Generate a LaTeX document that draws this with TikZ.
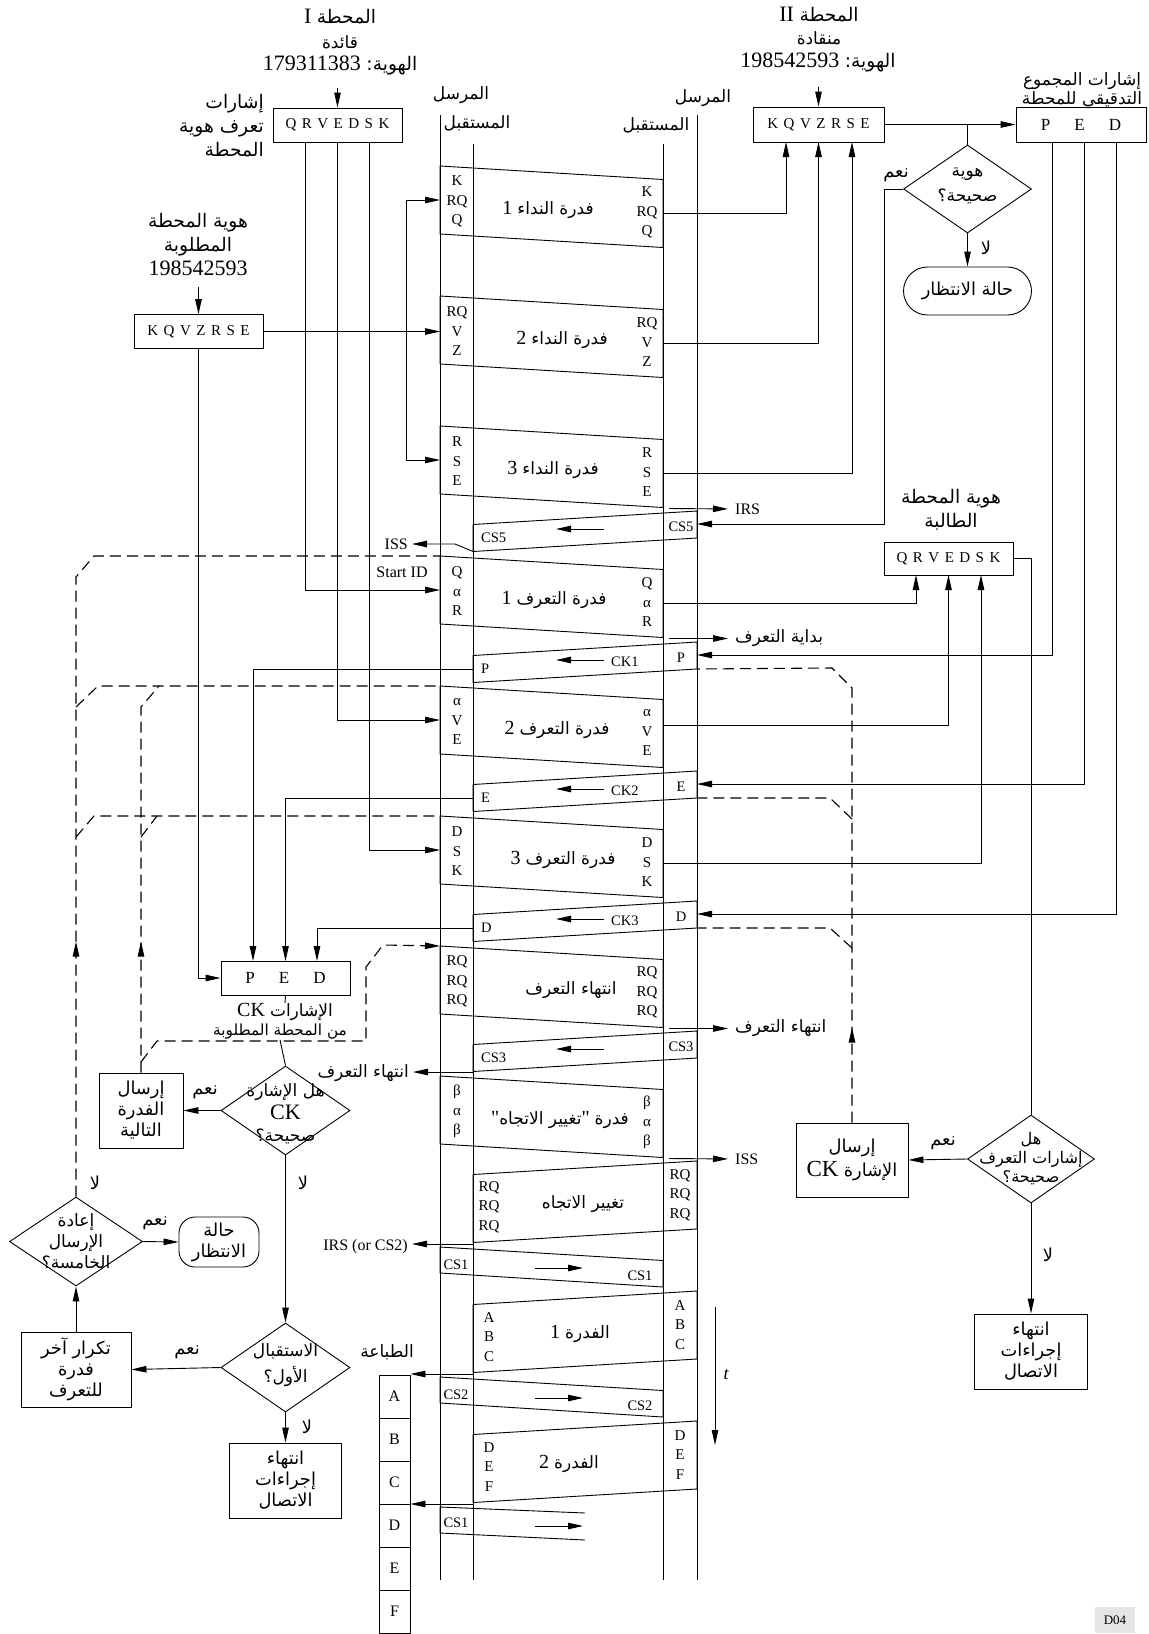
\documentclass[tikz,border=0pt]{standalone}
\usepackage{fontspec}
\setmainfont{Liberation Serif}
\newfontfamily\arabicfont[Script=Arabic,Scale=0.85]{DejaVu Sans}
\newfontfamily\qfont[Ligatures=TeXOff]{Liberation Serif}
\TeXXeTstate=1
\usetikzlibrary{arrows.meta,shapes.geometric,decorations.markings}

\newcommand{\artxt}[1]{{\arabicfont\beginR #1\endR}}
\newcommand{\lsp}{\hspace{5.5pt}}
\newcommand{\psp}{\hspace{24pt}}
\newcommand{\qm}{{\qfont "}}

\begin{document}
\begin{tikzpicture}[
  x=1pt, y=-1pt,
  font=\fontsize{16}{19}\selectfont,
  lane/.style={line width=0.9pt},
  frm/.style={line width=0.9pt},
  link/.style={line width=0.9pt},
  arr/.style={-{Triangle[length=15pt,width=6.5pt]}, line width=0.9pt},
  loopln/.style={line width=1.1pt, dash pattern=on 11pt off 6pt},
  upmark/.style={postaction={decorate}, decoration={markings,
      mark=at position #1 with {\arrow{Triangle[length=15pt,width=6.5pt]}}}},
  sigbox/.style={draw, line width=0.9pt, minimum width=129pt, minimum height=34pt,
      inner sep=0pt, font=\fontsize{15}{18}\selectfont},
  procbox/.style={draw, line width=0.9pt, align=center, inner sep=0pt,
      font=\fontsize{21}{21}\selectfont},
  decide/.style={diamond, draw, line width=0.9pt, inner sep=0pt,
      minimum width=129pt, minimum height=89pt},
  waitbox/.style={draw, line width=0.9pt, align=center, inner sep=0pt,
      font=\fontsize{21}{21}\selectfont},
  qtext/.style={align=center, inner sep=0pt, font=\fontsize{20}{21}\selectfont},
  sig/.style={align=center, inner sep=0pt, font=\fontsize{15}{19.5}\selectfont},
  cslbl/.style={inner sep=0pt, font=\fontsize{14.5}{17}\selectfont},
  fname/.style={inner sep=0pt, font=\fontsize{20}{22}\selectfont},
  lbl/.style={inner sep=0pt, font=\fontsize{16}{19}\selectfont},
  albl/.style={inner sep=0pt, align=center, font=\fontsize{20}{22}\selectfont},
  yn/.style={inner sep=0pt, font=\fontsize{21}{22}\selectfont},
  big/.style={inner sep=0pt, font=\fontsize{22}{24}\selectfont}
]
\useasboundingbox (0,0) rectangle (1149,1634);

% --- Lifelines ---
\coordinate (sL-top) at (440,115); \coordinate (sL-bot) at (440,1580);
\coordinate (rL-top) at (473,144); \coordinate (rL-bot) at (473,1580);
\coordinate (rR-top) at (663,144); \coordinate (rR-bot) at (663,1580);
\coordinate (sR-top) at (697,115); \coordinate (sR-bot) at (697,1580);
\foreach \ln in {sL,rL,rR,sR}
  \draw[lane] (\ln-top) -- (\ln-bot);

\node[albl] (sndL) at (461,95) {\artxt{المرسل}};
\node[albl] (rcvL) at (477,123) {\artxt{المستقبل}};
\node[albl] (sndR) at (703,98) {\artxt{المرسل}};
\node[albl] (rcvR) at (656,125) {\artxt{المستقبل}};

% --- Frames sent to the right ---
\foreach \fr/\t/\sg/\cx/\lab/\oy in {
    pa/166/{K\\RQ\\Q}/548/{1 \artxt{فدرة النداء}}/47,
    pb/296/{RQ\\V\\Z}/562/{2 \artxt{فدرة النداء}}/47,
    pc/426/{R\\S\\E}/553/{3 \artxt{فدرة النداء}}/47,
    ia/556/{Q\\α\\R}/554/{1 \artxt{فدرة التعرف}}/47,
    ib/686/{α\\V\\E}/557/{2 \artxt{فدرة التعرف}}/39,
    ic/816/{D\\S\\K}/563/{3 \artxt{فدرة التعرف}}/47,
    ie/946/{RQ\\RQ\\RQ}/571/{\artxt{انتهاء التعرف}}/47,
    dc/1076/{β\\α\\β}/560/{\qm\artxt{تغيير الاتجاه}\qm\ \artxt{فدرة}}/47}{
  \draw[frm] (440,\t) coordinate (\fr-tl) -- (663,\t+13.5) coordinate (\fr-tr)
    -- (663,\t+81.5) coordinate (\fr-br) -- (440,\t+68) coordinate (\fr-bl) -- cycle;
  \node[sig] (\fr-sl) at (457,\t+35.5) {\sg};
  \node[sig] (\fr-sr) at (647,\t+46.5) {\sg};
  \node[fname] (\fr-nm) at (\cx,\t+44) {\lab};
  \coordinate (\fr-in) at (440,\t+34);
  \coordinate (\fr-out) at (663,\t+\oy);
  \coordinate (\fr-x) at (669,\t+82.5);
}

% --- Short frames sent back ---
\foreach \fr/\t/\sg/\ck in {cs5/511/CS5/{}, k1/642/P/CK1, k2/771/E/CK2,
    k3/901/D/CK3, cs3/1031/CS3/{}}{
  \draw[frm] (697,\t) coordinate (\fr-tr) -- (473,\t+13.5) coordinate (\fr-tl)
    -- (473,\t+40.5) coordinate (\fr-bl) -- (697,\t+27) coordinate (\fr-rb) -- cycle;
  \node[cslbl] (\fr-sr) at (681,\t+16) {\sg};
  \node[cslbl, anchor=west] (\fr-sl) at (481,\t+27) {\sg};
  \node[cslbl, anchor=west] (\fr-ck) at (611,\t+20) {\ck};
  \coordinate (\fr-a1) at (604,\t+18);
  \coordinate (\fr-a2) at (556,\t+18);
  \draw[arr] (\fr-a1) -- (\fr-a2);
  \coordinate (\fr-ri) at (697,\t+13);
  \coordinate (\fr-lo) at (473,\t+27);
  \coordinate (\fr-x) at (473,\t+41);
}

% --- Data frames sent back ---
\foreach \fr/\t/\sg/\cx/\lab in {
    rq/1161/{RQ\\RQ\\RQ}/583/{\artxt{تغيير الاتجاه}},
    fa/1291/{A\\B\\C}/580/{1 \artxt{الفدرة}},
    fb/1421/{D\\E\\F}/569/{2 \artxt{الفدرة}}}{
  \draw[frm] (697,\t) coordinate (\fr-tr) -- (473,\t+13.5) coordinate (\fr-tl)
    -- (473,\t+81.5) coordinate (\fr-bl) -- (697,\t+68) coordinate (\fr-br) -- cycle;
  \node[sig] (\fr-sr) at (680,\t+34) {\sg};
  \node[sig] (\fr-sl) at (489,\t+46) {\sg};
  \node[fname] (\fr-nm) at (\cx,\t+43) {\lab};
  \coordinate (\fr-x) at (473,\t+83);
}

% --- Short frames sent to the right ---
\foreach \fr/\t/\sg in {c1/1247/CS1, c2/1377/CS2}{
  \draw[frm] (440,\t) coordinate (\fr-tl) -- (663,\t+13.5) coordinate (\fr-tr)
    -- (663,\t+40) coordinate (\fr-br) -- (440,\t+26) coordinate (\fr-bl) -- cycle;
  \node[cslbl] (\fr-sl) at (456,\t+18) {\sg};
  \node[cslbl] (\fr-sr) at (640,\t+29) {\sg};
  \coordinate (\fr-a1) at (535,\t+21);
  \coordinate (\fr-a2) at (583,\t+21);
  \draw[arr] (\fr-a1) -- (\fr-a2);
}
\draw[frm] (585,1513) coordinate (c3-tr) -- (440,1507) coordinate (c3-tl)
  -- (440,1533) coordinate (c3-bl) -- (585,1540) coordinate (c3-br);
\node[cslbl] (c3-sl) at (456,1523) {CS1};
\coordinate (c3-a1) at (535,1526); \coordinate (c3-a2) at (583,1526);
\draw[arr] (c3-a1) -- (c3-a2);

% --- Station I ---
\node[big] (st1-name) at (340,17) {I \artxt{المحطة}};
\node[albl] (st1-role) at (340,42) {\artxt{قائدة}};
\node[big] (st1-id) at (340,65) {179311383 \artxt{الهوية:}};
\node[sigbox] (sigA) at (337.5,125) {Q\lsp R\lsp V\lsp E\lsp D\lsp S\lsp K};
\node[albl, align=right, anchor=east, font=\fontsize{22}{24}\selectfont] (sigA-lbl)
  at (264,126) {\artxt{إشارات}\\\artxt{تعرف هوية}\\\artxt{المحطة}};
\coordinate (st1-in) at (337.5,88);
\draw[arr] (st1-in) -- (sigA.north);

\coordinate (qa1) at (305,142);
\coordinate (qa2) at (337.5,142);
\coordinate (qa3) at (369,142);
\draw[arr] (qa1) |- (ia-in);
\draw[arr] (qa2) |- (ib-in);
\draw[arr] (qa3) |- (ic-in);
\node[lbl] (startid) at (402,572) {Start ID};

\node[albl, font=\fontsize{22}{24}\selectfont] (reqL) at (198,244)
  {\artxt{هوية المحطة}\\\artxt{المطلوبة}\\{\fontsize{22}{24}\selectfont 198542593}};
\node[sigbox] (sigB) at (198.5,331.5) {K\lsp Q\lsp V\lsp Z\lsp R\lsp S\lsp E};
\coordinate (reqL-out) at (198.5,287);
\draw[arr] (reqL-out) -- (sigB.north);
\coordinate (fork) at (406,331.5);
\draw[arr] (sigB.east) -- (sigB.east -| pb-in);
\draw[arr] (fork) |- (pa-in);
\draw[arr] (fork) |- (pc-in);

% --- Left checks ---
\node[sigbox, font=\fontsize{17}{18}\selectfont] (pedL) at (285.5,978) {P\psp E\psp D};
\coordinate (pedL-1) at (253,961);
\coordinate (pedL-2) at (285.5,961);
\coordinate (pedL-3) at (317,961);
\draw[arr] (k1-lo) -| (pedL-1);
\draw[arr] (k2-lo) -| (pedL-2);
\draw[arr] (k3-lo) -| (pedL-3);
\draw[arr] (sigB.south) |- (pedL.west);
\node[albl] (ckL1) at (285,1012) {{\fontsize{20}{20}\selectfont CK} \artxt{الإشارات}};
\node[albl, font=\fontsize{18}{20}\selectfont] (ckL2) at (280,1032) {\artxt{من المحطة المطلوبة}};

\node[decide] (dA) at (285.5,1110.5) {};
\node[qtext, font=\fontsize{20}{22.5}\selectfont] (dA-t) at (285.5,1114)
  {\artxt{هل الإشارة}\\{\fontsize{22}{22}\selectfont CK}\\\artxt{صحيحة؟}};
\draw[link] (pedL.south) -- (ckL1.north);
\draw[link] (ckL2.south) -- (dA.north);

\node[procbox, minimum width=84pt, minimum height=75pt] (nextb) at (141,1110.5)
  {\artxt{إرسال}\\\artxt{الفدرة}\\\artxt{التالية}};
\draw[arr] (dA.west) -- (nextb.east);
\node[yn] (dA-yes) at (205,1092) {\artxt{نعم}};

\node[decide] (dB) at (285.5,1367.5) {};
\node[qtext, font=\fontsize{20}{26}\selectfont] (dB-t) at (285.5,1365)
  {\artxt{الاستقبال}\\\artxt{الأول؟}};
\draw[arr] (dA.south) -- (dB.north);
\node[yn] (dA-no) at (303,1183) {\artxt{لا}};

\node[procbox, minimum width=110pt, minimum height=75pt] (repb) at (76,1369.5)
  {\artxt{تكرار آخر}\\\artxt{فدرة}\\\artxt{للتعرف}};
\draw[arr] (dB.west) -- (repb.east);
\node[yn] (dB-yes) at (187,1352) {\artxt{نعم}};

\node[procbox, minimum width=112pt, minimum height=75pt] (endL) at (285.5,1480.5)
  {\artxt{انتهاء}\\\artxt{إجراءات}\\\artxt{الاتصال}};
\draw[arr] (dB.south) -- (endL.north);
\node[yn] (dB-no) at (307,1427) {\artxt{لا}};

\node[decide, minimum width=133pt] (dC) at (76,1241.5) {};
\node[qtext] (dC-t) at (76,1241) {\artxt{إعادة}\\\artxt{الإرسال}\\\artxt{الخامسة؟}};
\draw[arr] (repb.north) -- (dC.south);
\node[waitbox, minimum width=80pt, minimum height=50pt, rounded corners=16pt] (waitL)
  at (219,1242) {\artxt{حالة}\\\artxt{الانتظار}};
\draw[arr] (dC.east) -- (waitL.west);
\node[yn] (dC-yes) at (155,1223) {\artxt{نعم}};
\node[yn] (dC-no) at (95,1183) {\artxt{لا}};

% --- Left repeat loops ---
\draw[loopln, upmark=255pt] (dC.north) -- (76,577) -- (94,556) -- (ia-tl);
\draw[loopln] (76,707) -- (98,686) -- (ib-tl);
\draw[loopln] (76,837) -- (94,816) -- (ic-tl);
\draw[loopln, upmark=131pt] (nextb.north) -- (141,707) -- (159,686);
\draw[loopln] (141,837) -- (157,816);
\draw[loopln, arr, line width=1.1pt] (141,1062) -- (157,1041) -- (366,1041) -- (366,967) -- (383,945) -- (ie-tl);

% --- Station II ---
\node[big] (st2-name) at (819,15) {II \artxt{المحطة}};
\node[albl] (st2-role) at (819,38) {\artxt{منقادة}};
\node[big] (st2-id) at (818,62) {198542593 \artxt{الهوية:}};
\node[sigbox, minimum width=131pt, minimum height=35pt] (sigC) at (818.5,124.5)
  {K\lsp Q\lsp V\lsp Z\lsp R\lsp S\lsp E};
\coordinate (st2-in) at (818.5,87);
\draw[arr] (st2-in) -- (sigC.north);
\coordinate (sigC-1) at (786,142);
\coordinate (sigC-2) at (818.5,142);
\coordinate (sigC-3) at (852,142);
\draw[arr] (pa-out) -| (sigC-1);
\draw[arr] (pb-out) -| (sigC-2);
\draw[arr] (pc-out) -| (sigC-3);

\node[albl, font=\fontsize{20}{19}\selectfont] (chkL) at (1082,91)
  {\artxt{إشارات المجموع}\\\artxt{التدقيقي للمحطة}};
\node[sigbox, minimum width=130pt, minimum height=35pt, font=\fontsize{17}{18}\selectfont]
  (pedR) at (1081,124.5) {P\psp E\psp D};
\draw[arr] (sigC.east) -- (pedR.west);

\node[decide, minimum width=128pt, minimum height=88pt] (dD) at (967.5,189) {};
\node[qtext, font=\fontsize{20}{25}\selectfont] (dD-t) at (967.5,186)
  {\artxt{هوية}\\\artxt{صحيحة؟}};
\draw[link] (dD.north |- sigC.east) -- (dD.north);
\node[waitbox, minimum width=128pt, minimum height=48pt, rounded corners=24pt] (waitR)
  at (967.5,291) {\artxt{حالة الانتظار}};
\draw[arr] (dD.south) -- (waitR.north);
\node[yn] (dD-no) at (986,248) {\artxt{لا}};
\node[yn] (dD-yes) at (896,175) {\artxt{نعم}};
\draw[arr] (dD.west) -- (884,189) |- (cs5-ri);

\coordinate (pedR-1) at (1052,142);
\coordinate (pedR-2) at (1084,142);
\coordinate (pedR-3) at (1116,142);
\draw[arr] (pedR-1) |- (k1-ri);
\draw[arr] (pedR-2) |- (k2-ri);
\draw[arr] (pedR-3) |- (k3-ri);

\node[albl, font=\fontsize{22}{24}\selectfont] (reqR) at (951,510)
  {\artxt{هوية المحطة}\\\artxt{الطالبة}};
\node[sigbox, minimum height=33pt] (sigD) at (948.5,558.5) {Q\lsp R\lsp V\lsp E\lsp D\lsp S\lsp K};
\coordinate (sigD-1) at (916,575);
\coordinate (sigD-2) at (948.5,575);
\coordinate (sigD-3) at (981,575);
\draw[arr] (ia-out) -| (sigD-1);
\draw[arr] (ib-out) -| (sigD-2);
\draw[arr] (ic-out) -| (sigD-3);

\node[decide, minimum width=127pt, minimum height=88pt] (dE) at (1031,1159) {};
\node[qtext, font=\fontsize{19}{19}\selectfont] (dE-t) at (1031,1159)
  {\artxt{هل}\\\artxt{إشارات التعرف}\\\artxt{صحيحة؟}};
\draw[link] (sigD.east) -| (dE.north);
\node[procbox, minimum width=112pt, minimum height=74pt, font=\fontsize{21}{24}\selectfont]
  (ckb) at (852,1160) {\artxt{إرسال}\\{\fontsize{23}{23}\selectfont CK} \artxt{الإشارة}};
\draw[arr] (dE.west) -- (ckb.east);
\node[yn] (dE-yes) at (943,1143) {\artxt{نعم}};
\node[procbox, minimum width=113pt, minimum height=75pt] (endR) at (1031,1351.5)
  {\artxt{انتهاء}\\\artxt{إجراءات}\\\artxt{الاتصال}};
\draw[arr] (dE.south) -- (endR.north);
\node[yn] (dE-no) at (1048,1255) {\artxt{لا}};

% --- Right repeat loops ---
\draw[loopln, upmark=95pt] (ckb.north) -- (852,688) -- (832,668) -- (k1-rb);
\draw[loopln] (852,819) -- (830,798) -- (k2-rb);
\draw[loopln] (852,948) -- (830,928) -- (k3-rb);

% --- Signals on the right ---
\node[lbl, anchor=west] (irsR) at (735,509) {IRS};
\node[albl, anchor=west] (startR) at (735,638) {\artxt{بداية التعرف}};
\node[albl, anchor=west] (eidR) at (735,1028) {\artxt{انتهاء التعرف}};
\node[lbl, anchor=west] (issR) at (735,1159) {ISS};
\draw[arr, shorten >=7pt] (pc-x) -- (irsR.west);
\draw[arr, shorten >=7pt] (ia-x) -- (ia-x -| startR.west);
\draw[arr, shorten >=7pt] (ie-x) -- (ie-x -| eidR.west);
\draw[arr, shorten >=7pt] (dc-x) -- (issR.west);

% --- Signals on the left ---
\node[lbl, anchor=east] (issL) at (408,544) {ISS};
\node[albl, anchor=east] (eidL) at (409,1073) {\artxt{انتهاء التعرف}};
\node[lbl, anchor=east] (irsL) at (408,1247) {IRS (or CS2)};
\draw[arr, shorten >=4pt] (cs5-bl) -- (455,544) -- (issL.east);
\draw[arr, shorten >=4pt] (cs3-x) -- (cs3-x -| eidL.east);
\draw[arr, shorten >=4pt] (rq-x) -- (rq-x -| irsL.east);

% --- Printer ---
\node[albl] (prnL) at (387,1352) {\artxt{الطباعة}};
\foreach \ch [count=\k from 0] in {A,B,C,D,E,F}
  \node[draw, line width=0.9pt, minimum width=31pt, minimum height=43pt, inner sep=0pt,
    font=\fontsize{16}{18}\selectfont] (pr\ch) at (394.5,1396.5+43*\k) {\ch};
\draw[arr] (fa-x) -- (fa-x -| prA.east);
\draw[arr] (fb-x) -- (fb-x -| prD.east);

% --- Time axis ---
\coordinate (t-top) at (715,1307);
\coordinate (t-bot) at (715,1445);
\draw[arr] (t-top) -- (t-bot);
\node[lbl, font=\itshape\fontsize{18}{18}\selectfont] (tlbl) at (726,1375) {t};

\node[fill=black!10, minimum width=40pt, minimum height=26pt, inner sep=0pt,
  font=\fontsize{13}{14}\selectfont] (tag) at (1115,1620) {D04};

\end{tikzpicture}
\end{document}
